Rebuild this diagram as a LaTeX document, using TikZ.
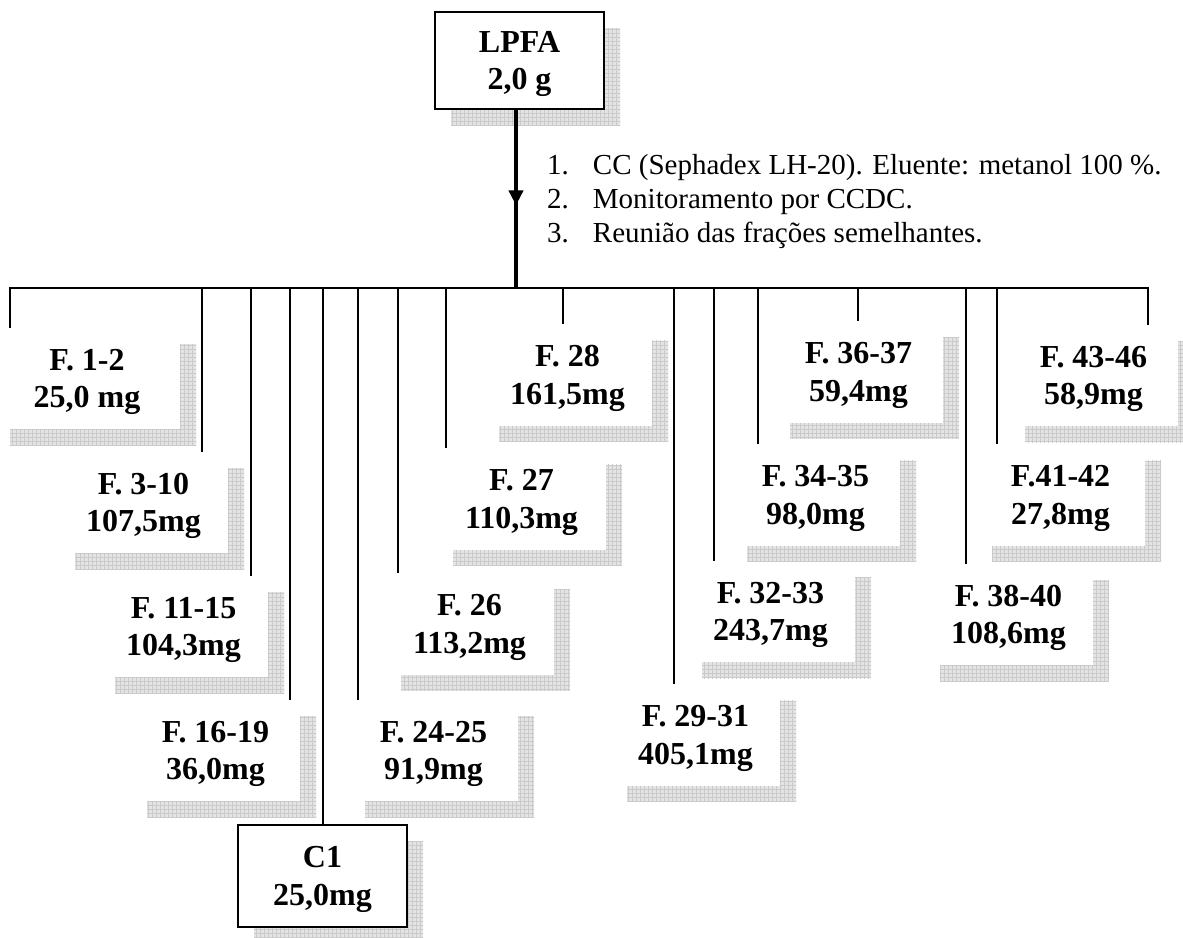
\documentclass[tikz,border=0pt]{standalone}
\usepackage{fontspec}
\setmainfont{Liberation Serif}
\usetikzlibrary{arrows.meta,shadows,patterns,decorations.markings}

% fine square grid used inside the box shadows
\pgfdeclarepatternformonly{shadowgrid}{\pgfqpoint{-1pt}{-1pt}}{\pgfqpoint{5pt}{5pt}}{\pgfqpoint{4pt}{4pt}}{%
  \pgfsetlinewidth{0.5pt}%
  \pgfpathmoveto{\pgfqpoint{0pt}{0pt}}\pgfpathlineto{\pgfqpoint{4.1pt}{0pt}}%
  \pgfpathmoveto{\pgfqpoint{0pt}{0pt}}\pgfpathlineto{\pgfqpoint{0pt}{4.1pt}}%
  \pgfusepath{stroke}}

\definecolor{shadowgray}{HTML}{E4E4E4}
\definecolor{gridgray}{HTML}{CACACA}

\begin{document}
\begin{tikzpicture}[x=1pt,y=-1pt,
  gridshadow/.style={
    general shadow={fill=shadowgray,shadow xshift=16pt,shadow yshift=-16pt},
    general shadow={pattern=shadowgrid,pattern color=gridgray,shadow xshift=16pt,shadow yshift=-16pt}},
  fraction/.style={gridshadow,fill=white,inner sep=0pt,minimum width=169pt,
    minimum height=101pt,align=center,text depth=0pt,
    font=\bfseries\fontsize{32}{37.5}\selectfont},
  framed/.style={fraction,draw=black,line width=2pt},
  branch/.style={line width=2pt},
  ]
\useasboundingbox (0,0) rectangle (1183,937);

% starting material
\node[framed,minimum height=97pt] (lpfa) at (519.5,60.5) {LPFA\\2,0 g};

% procedure
\node[anchor=base west,inner sep=0pt,font=\fontsize{29}{34}\selectfont] (steps) at (547,174)
  {\begin{tabular}[t]{@{}l@{\hspace{24pt}}l@{}}
   1. & CC (Sephadex LH-20). Eluente: metanol 100 \%.\\
   2. & Monitoramento por CCDC.\\
   3. & Reunião das frações semelhantes.
   \end{tabular}};

% fractions
\node[fraction,minimum width=186pt] (f12) at (87,378.5) {F. 1-2\\25,0 mg};
\node[fraction] (f310)  at (143.5,502.5) {F. 3-10\\107,5mg};
\node[fraction] (f1115) at (183.5,626.5) {F. 11-15\\104,3mg};
\node[fraction] (f1619) at (215.5,750.5) {F. 16-19\\36,0mg};
\node[framed,minimum height=102pt] (c1) at (322.5,876) {C1\\25,0mg};
\node[fraction] (f2425) at (433.5,750.5) {F. 24-25\\91,9mg};
\node[fraction] (f26)   at (469.5,624)   {F. 26\\113,2mg};
\node[fraction] (f27)   at (521.5,499)   {F. 27\\110,3mg};
\node[fraction] (f28)   at (567.5,375)   {F. 28\\161,5mg};
\node[fraction] (f2931) at (695.5,735)   {F. 29-31\\405,1mg};
\node[fraction] (f3233) at (770.5,611.5) {F. 32-33\\243,7mg};
\node[fraction] (f3435) at (815.5,495)   {F. 34-35\\98,0mg};
\node[fraction] (f3637) at (858.5,372)   {F. 36-37\\59,4mg};
\node[fraction] (f3840) at (1008.5,614.5) {F. 38-40\\108,6mg};
\node[fraction] (f4142) at (1060.5,495)  {F.41-42\\27,8mg};
\node[fraction] (f4346) at (1093.5,375.5) {F. 43-46\\58,9mg};

% distribution bar
\coordinate (hub) at (516,288);
\coordinate (b1)  at (10,288);
\coordinate (b2)  at (202,288);
\coordinate (b3)  at (251,288);
\coordinate (b4)  at (290,288);
\coordinate (b5)  at (323,288);
\coordinate (b6)  at (358,288);
\coordinate (b7)  at (398,288);
\coordinate (b8)  at (446,288);
\coordinate (b9)  at (563,288);
\coordinate (b10) at (674,288);
\coordinate (b11) at (714,288);
\coordinate (b12) at (758,288);
\coordinate (b13) at (858,288);
\coordinate (b14) at (966,288);
\coordinate (b15) at (997,288);
\coordinate (b16) at (1148,288);

\draw[line width=4pt,postaction={decorate},
  decoration={markings,mark=at position 0.536 with {\arrow{Triangle[width=14pt,length=15pt]}}}]
  (lpfa.south -| hub) -- (hub);

\draw[branch] (b1 |- f12.north) -- (b1) -- (b16) -- (b16 |- f4346.north);
\foreach \b/\n in {b2/f310,b3/f1115,b4/f1619,b5/c1,b6/f2425,b7/f26,b8/f27,b9/f28,
                   b10/f2931,b11/f3233,b12/f3435,b13/f3637,b14/f3840,b15/f4142}
  \draw[branch] (\b) -- (\b |- \n.north);
\end{tikzpicture}
\end{document}
